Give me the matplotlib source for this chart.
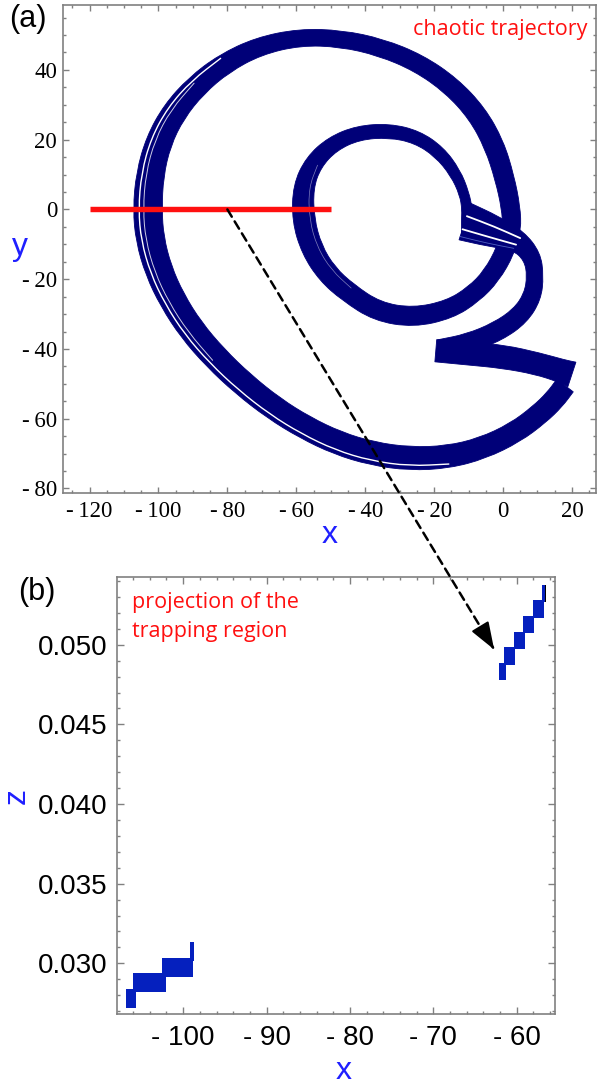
import numpy as np
import matplotlib
matplotlib.use("Agg")
import matplotlib.pyplot as plt
from matplotlib.path import Path
from matplotlib.patches import PathPatch, Rectangle, ConnectionPatch
from matplotlib.ticker import MultipleLocator, FuncFormatter

# ---------------- data ----------------
# chaotic trajectory, panel (a): centre line of the band and its width (data units)
# main part: bottom arc -> left side -> top -> right side -> inner loop
orbit_main_x = [18.0, 15.0, 10.5, 3.5, -6.0, -16.0, -27.0, -38.0, -48.0, -57.5, -66.5, -75.5,
                -83.5, -90.5, -96.0, -100.0, -102.5, -103.2, -102.5, -100.0, -95.5, -89.0,
                -81.0, -71.0, -59.0, -47.0, -35.5, -24.5, -15.0, -7.5, -2.5, 0.5, 2.3, 2.6,
                0.8, -3.3, -8.5, -15.5, -26.0, -36.5, -45.0, -51.0, -55.5, -58.0, -58.0,
                -55.0, -49.5, -42.0, -33.0, -25.0, -18.5, -13.8, -11.2, -10.4, -10.5, -10.4]
orbit_main_y = [-50.5, -54.5, -58.8, -64.0, -68.5, -71.0, -71.5, -70.0, -67.0, -62.5, -57.0,
                -50.0, -42.5, -34.5, -26.0, -17.5, -8.5, 0.0, 10.0, 19.5, 28.0, 35.5, 41.8,
                46.8, 49.4, 49.0, 46.5, 42.0, 35.5, 27.5, 18.5, 9.0, 0.5, -5.5, -11.7, -19.0,
                -24.3, -28.7, -31.0, -29.3, -23.8, -18.5, -11.5, -3.0, 6.5, 13.5, 18.8, 22.0,
                22.6, 20.8, 16.5, 10.5, 4.5, 0.0, -3.5, -7.5]
orbit_main_w = [6.0, 6.0, 6.0, 6.0, 6.2, 6.5, 6.7, 6.7, 6.7, 6.7, 6.8, 7.0, 7.2, 7.4, 7.6,
                7.9, 8.2, 8.4, 8.0, 7.5, 7.0, 6.4, 5.8, 5.2, 4.8, 4.8, 5.0, 5.2, 5.4, 5.6,
                5.8, 5.6, 5.4, 5.4, 5.4, 5.2, 5.2, 5.4, 5.6, 5.6, 5.7, 5.9, 6.2, 6.5, 6.0,
                5.2, 4.5, 4.1, 4.0, 3.8, 3.6, 3.2, 2.8, 3.0, 3.2, 3.2]
# fan leaving the inner loop, right-hand band, down to the left fold
orbit_fan_x = [-11.0, -3.0, 4.5, 8.5, 9.4, 8.6, 5.0, -1.5, -10.0, -18.3]
orbit_fan_y = [-3.5, -6.2, -9.0, -13.5, -19.0, -25.0, -30.5, -35.0, -38.3, -39.8]
orbit_fan_w = [11.0, 9.2, 6.2, 5.2, 4.8, 5.2, 5.5, 5.6, 5.3, 5.0]
# band running right from the left fold to the right fold
orbit_fold_x = [-19.5, -10.0, 0.0, 10.0, 17.0, 20.0]
orbit_fold_y = [-40.5, -41.3, -42.2, -44.2, -46.3, -47.3]
orbit_fold_w = [6.4, 6.6, 6.7, 6.3, 6.6, 7.4]

# Poincare section (red line)
section_x = [-120, -50]
section_y = [0, 0]

# panel (b): cells of the trapping region projection
cells_x0 = [-62.15, -61.55, -60.35, -59.23, -58.03, -56.99,
            -106.87, -106.03, -102.55, -99.20]
cells_x1 = [-61.31, -60.14, -58.94, -57.91, -56.75, -56.63,
            -105.71, -102.11, -98.87, -98.70]
cells_z0 = [0.04778, 0.04874, 0.04973, 0.05072, 0.05169, 0.05270,
            0.02718, 0.02822, 0.02916, 0.03016]
cells_z1 = [0.04883, 0.04984, 0.05080, 0.05180, 0.05281, 0.05375,
            0.02837, 0.02941, 0.03033, 0.03134]
edge_x0 = [-56.63]
edge_x1 = [-56.43]
edge_z0 = [0.05270]
edge_z1 = [0.05375]

arrow_start = (-80.0, 0.0)        # on the section, panel (a)
arrow_end = (-62.7, 0.0497)       # panel (b)

# ---------------- helpers ----------------
NAVY = "#000078"
BLUE = "#0520BE"
LBL = "#1f1fff"
GRAY = "#808080"
RED = "#ff1010"


def _smooth(P):
    verts = [P[0], (P[0] + P[1]) / 2]
    codes = [Path.LINETO, Path.LINETO]
    for i in range(1, len(P) - 1):
        verts += [P[i], (P[i] + P[i + 1]) / 2]
        codes += [Path.CURVE3, Path.CURVE3]
    verts.append(P[-1])
    codes.append(Path.LINETO)
    return verts, codes


def _frame(xs, ys):
    P = np.column_stack([xs, ys]).astype(float)
    t = np.gradient(P, axis=0)
    t /= np.linalg.norm(t, axis=1)[:, None]
    n = np.column_stack([-t[:, 1], t[:, 0]])
    return P, n


def band(ax, xs, ys, ws, color=NAVY, z=2):
    P, n = _frame(xs, ys)
    h = np.asarray(ws, float)[:, None] / 2
    left, right = P + n * h, P - n * h
    v1, c1 = _smooth(left)
    v2, c2 = _smooth(right[::-1])
    c1[0] = Path.MOVETO
    verts = v1 + v2 + [left[0]]
    codes = c1 + c2 + [Path.CLOSEPOLY]
    ax.add_patch(PathPatch(Path(verts, codes), facecolor=color, edgecolor=color,
                           lw=0.6, zorder=z))


def strand(ax, xs, ys, ws, frac, i0, i1, color="white", lw=1.0, alpha=1.0, z=3):
    P, n = _frame(xs, ys)
    h = np.asarray(ws, float)[:, None] / 2
    Q = (P + n * h * frac)[i0:i1]
    v, c = _smooth(Q)
    c[0] = Path.MOVETO
    ax.add_patch(PathPatch(Path(v, c), fill=False, edgecolor=color, lw=lw,
                           alpha=alpha, zorder=z, capstyle="round"))


def fmt_a(v, pos):
    iv = int(round(v))
    return f"-\u2009{abs(iv)}" if iv < 0 else f"{iv}"


def fmt_bx(v, pos):
    iv = int(round(v))
    return f"- {abs(iv)}" if iv < 0 else f"{iv}"


def fmt_by(v, pos):
    return f"{v:.3f}"


def style_axes(ax):
    for s in ax.spines.values():
        s.set_color(GRAY)
        s.set_linewidth(1.2)
    ax.tick_params(which="both", direction="in", top=True, right=True,
                   color=GRAY, width=1.0)
    ax.tick_params(which="major", length=4.0)
    ax.tick_params(which="minor", length=2.2)


# ---------------- figure ----------------
plt.rcParams["font.family"] = ["Liberation Sans", "DejaVu Sans"]
fig = plt.figure(figsize=(6.06, 10.84), dpi=100)
W, H = 606.0, 1084.0

# ---- panel (a)
ax1 = fig.add_axes([62.7 / W, 1 - 493 / H, (596 - 62.7) / W, (493 - 4.7) / H])
ax1.set_xlim(-127.8, 27.0)
ax1.set_ylim(-81.3, 58.7)
style_axes(ax1)
ax1.xaxis.set_major_locator(MultipleLocator(20))
ax1.xaxis.set_minor_locator(MultipleLocator(5))
ax1.yaxis.set_major_locator(MultipleLocator(20))
ax1.yaxis.set_minor_locator(MultipleLocator(5))
ax1.xaxis.set_major_formatter(FuncFormatter(fmt_a))
ax1.yaxis.set_major_formatter(FuncFormatter(fmt_a))
ax1.tick_params(axis="both", labelsize=16.5, labelfontfamily="Liberation Serif")
ax1.tick_params(axis="x", pad=6)
ax1.tick_params(axis="y", pad=4)

band(ax1, orbit_main_x, orbit_main_y, orbit_main_w)
band(ax1, orbit_fan_x, orbit_fan_y, orbit_fan_w)
band(ax1, orbit_fold_x, orbit_fold_y, orbit_fold_w)
# fine gaps between strands of the band
strand(ax1, orbit_main_x, orbit_main_y, orbit_main_w, 0.62, 5, 23, lw=1.0)
strand(ax1, orbit_main_x, orbit_main_y, orbit_main_w, 0.30, 12, 22, lw=0.7, alpha=0.8)
strand(ax1, orbit_main_x, orbit_main_y, orbit_main_w, -0.55, 40, 46, lw=0.5, alpha=0.5)
strand(ax1, orbit_fan_x, orbit_fan_y, orbit_fan_w, 0.30, 0, 3, lw=1.3)
strand(ax1, orbit_fan_x, orbit_fan_y, orbit_fan_w, -0.42, 0, 3, lw=1.3)
strand(ax1, orbit_fan_x, orbit_fan_y, orbit_fan_w, -0.82, 0, 3, lw=0.6, color="#5060c0")

ax1.plot(section_x, section_y, color=RED, lw=3.9, solid_capstyle="butt", zorder=5)

ax1.text(0.983, 0.938, "chaotic trajectory", transform=ax1.transAxes, ha="right",
         va="baseline", color=RED, fontsize=15.5, fontfamily="Open Sans")
ax1.set_xlabel("x", color=LBL, fontsize=23)
ax1.xaxis.set_label_coords(0.501, -0.1024)
ax1.xaxis.label.set_verticalalignment("baseline")
ax1.set_ylabel("y", color=LBL, fontsize=23, rotation=0)
ax1.yaxis.set_label_coords(-0.080, 0.4874)
ax1.yaxis.label.set_verticalalignment("baseline")
ax1.yaxis.label.set_horizontalalignment("center")

# ---- panel (b)
ax2 = fig.add_axes([117.3 / W, 1 - 1014 / H, (555 - 117.3) / W, (1014 - 577) / H])
ax2.set_xlim(-107.9, -55.4)
ax2.set_ylim(0.02682, 0.05425)
style_axes(ax2)
ax2.tick_params(which="major", length=5.0)
ax2.tick_params(which="minor", length=2.5)
ax2.xaxis.set_major_locator(MultipleLocator(10))
ax2.xaxis.set_minor_locator(MultipleLocator(2))
ax2.yaxis.set_major_locator(MultipleLocator(0.005))
ax2.yaxis.set_minor_locator(MultipleLocator(0.001))
ax2.xaxis.set_major_formatter(FuncFormatter(fmt_bx))
ax2.yaxis.set_major_formatter(FuncFormatter(fmt_by))
ax2.tick_params(axis="both", labelsize=20)
ax2.tick_params(axis="x", pad=8)
ax2.tick_params(axis="y", pad=7)

for x0, x1, z0, z1 in zip(cells_x0, cells_x1, cells_z0, cells_z1):
    ax2.add_patch(Rectangle((x0, z0), x1 - x0, z1 - z0, facecolor=BLUE,
                            edgecolor="none", zorder=2))
for x0, x1, z0, z1 in zip(edge_x0, edge_x1, edge_z0, edge_z1):
    ax2.add_patch(Rectangle((x0, z0), x1 - x0, z1 - z0, facecolor="black",
                            edgecolor="none", zorder=2))

# multi-line text: 'baseline' refers to the last line
ax2.text(0.033, 0.8634, "projection of the\ntrapping region", transform=ax2.transAxes,
         ha="left", va="baseline", color=RED, fontsize=15.5, fontfamily="Open Sans",
         linespacing=1.5)
ax2.set_xlabel("x", color=LBL, fontsize=23)
ax2.xaxis.set_label_coords(0.516, -0.1487)
ax2.xaxis.label.set_verticalalignment("baseline")
ax2.set_ylabel("z", color=LBL, fontsize=23)
ax2.yaxis.set_label_coords(-0.23, 0.499)
ax2.yaxis.label.set_verticalalignment("center")

# panel letters
fig.text(9 / W, 1 - 27 / H, "(a)", fontsize=22, va="baseline", ha="left")
fig.text(18.5 / W, 1 - 600 / H, "(b)", fontsize=22, va="baseline", ha="left")

# dashed arrow from the section to the projection
con = ConnectionPatch(xyA=arrow_start, coordsA=ax1.transData,
                      xyB=arrow_end, coordsB=ax2.transData,
                      arrowstyle="-", color="black", lw=1.8,
                      linestyle=(0, (3.4, 2.2)), shrinkA=0, shrinkB=0, zorder=6)
fig.add_artist(con)
# solid arrow head, aligned with the dashed line
p0 = ax1.transData.transform(arrow_start)
p1 = ax2.transData.transform(arrow_end)
u = (p1 - p0) / np.hypot(*(p1 - p0))
back = ax2.transData.inverted().transform(p1 - 22 * u)
head = ConnectionPatch(xyA=tuple(back), coordsA=ax2.transData,
                       xyB=arrow_end, coordsB=ax2.transData,
                       arrowstyle="-|>,head_length=1.05,head_width=0.38",
                       mutation_scale=16, color="black", lw=1.5,
                       shrinkA=0, shrinkB=0, zorder=7)
fig.add_artist(head)

fig.savefig("out.png", dpi=100)
